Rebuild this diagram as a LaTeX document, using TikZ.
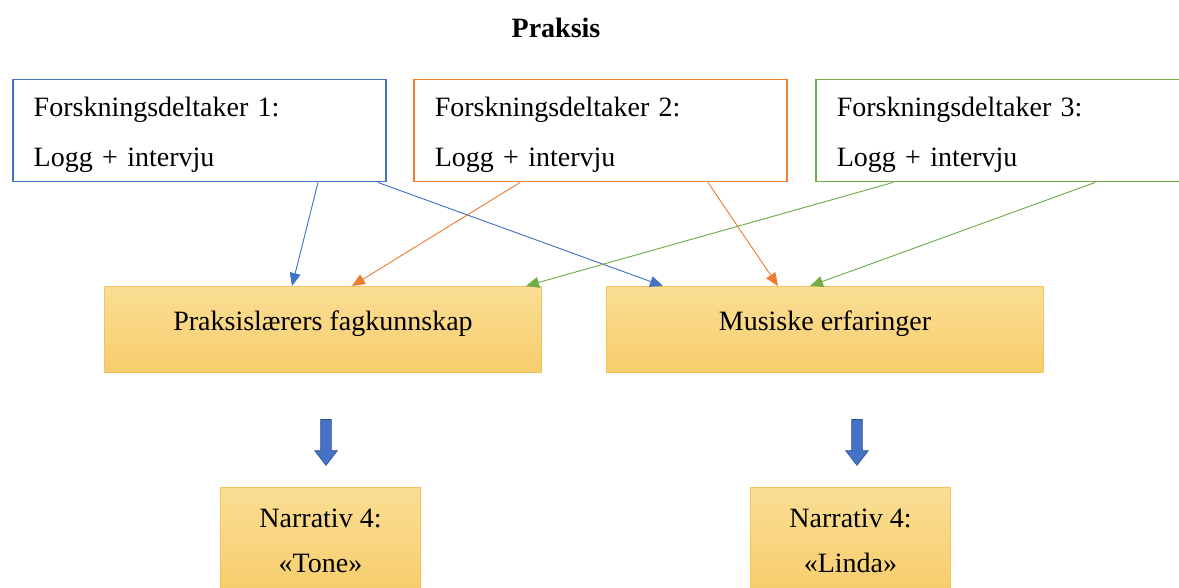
\documentclass[tikz,border=0pt]{standalone}
\usepackage{fontspec}
\setmainfont{Liberation Serif}
\usetikzlibrary{shapes.arrows,calc,arrows.meta}
\definecolor{cblue}{RGB}{68,114,196}
\definecolor{cbluedark}{RGB}{47,82,143}
\definecolor{corange}{RGB}{237,125,49}
\definecolor{cgreen}{RGB}{112,173,71}
\definecolor{ytop}{RGB}{250,222,148}
\definecolor{ybot}{RGB}{247,205,108}
\definecolor{yborder}{RGB}{243,196,90}
\newcommand{\shiftto}[2]{\raisebox{#1}[\height][\depth]{#2}}
\tikzset{
  x=1pt,y=1pt,
  txt/.style={font=\fontsize{28}{50}\selectfont},
  partbox/.style={draw=#1,line width=1.5pt,txt,align=left,anchor=north west,
    minimum width=373pt,minimum height=102pt,text width=331pt,inner xsep=21pt,inner ysep=0pt},
  goldbox/.style={draw=yborder,line width=1pt,top color=ytop,bottom color=ybot,txt,align=center,
    anchor=north west,inner sep=0pt},
  conn/.style={draw=#1,line width=0.9pt,-{Triangle[length=13pt,width=11pt]},fill=#1},
  blockarrow/.style={single arrow,draw=cbluedark,fill=cblue,line width=0.6pt,rotate=-90,
    minimum height=46pt,minimum width=22pt,inner xsep=0pt,inner ysep=5pt,
    single arrow head extend=6pt,single arrow tip angle=75}
}
\begin{document}
\begin{tikzpicture}
\useasboundingbox (0,0) rectangle (1179,-588);
\node[font=\fontsize{28}{34}\selectfont\bfseries] (title) at (556,-28) {Praksis};
\node[partbox=cblue] (p1) at (12,-79) {\shiftto{-4pt}{Forskningsdeltaker 1:}\\\shiftto{-4pt}{Logg + intervju}};
\node[partbox=corange] (p2) at (413,-79) {\shiftto{-4pt}{Forskningsdeltaker 2:}\\\shiftto{-4pt}{Logg + intervju}};
\node[partbox=cgreen] (p3) at (815,-79) {\shiftto{-4pt}{Forskningsdeltaker 3:}\\\shiftto{-4pt}{Logg + intervju}};
\node[goldbox,minimum width=437pt,minimum height=86pt] (k1) at (104,-286) {\shiftto{6pt}{Praksislærers fagkunnskap}};
\node[goldbox,minimum width=437pt,minimum height=86pt] (k2) at (606,-286) {\shiftto{6pt}{Musiske erfaringer}};
\node[goldbox,minimum width=200pt,minimum height=106pt,font=\fontsize{28}{45}\selectfont] (n1) at (220,-487) {Narrativ 4:\\«Tone»};
\node[goldbox,minimum width=200pt,minimum height=106pt,font=\fontsize{28}{45}\selectfont] (n2) at (750,-487) {Narrativ 4:\\«Linda»};
\node[blockarrow] (a1) at (326,-439) {};
\node[blockarrow] (a2) at (857,-439) {};
% connector end points on box borders
\coordinate (s11) at ($(p1.south west)+(306,0)$);
\coordinate (s12) at ($(p1.south west)+(366,0)$);
\coordinate (s21) at ($(p2.south west)+(107,0)$);
\coordinate (s22) at ($(p2.south west)+(295,0)$);
\coordinate (s31) at ($(p3.south west)+(78,0)$);
\coordinate (s32) at ($(p3.south west)+(280,0)$);
\coordinate (t11) at ($(k1.north west)+(188,0)$);
\coordinate (t21) at ($(k1.north west)+(248,0)$);
\coordinate (t31) at ($(k1.north west)+(422,0)$);
\coordinate (t12) at ($(k2.north west)+(57,0)$);
\coordinate (t22) at ($(k2.north west)+(172,0)$);
\coordinate (t32) at ($(k2.north west)+(204,0)$);
\draw[conn=cblue] (s11) -- (t11);
\draw[conn=cblue] (s12) -- (t12);
\draw[conn=corange] (s21) -- (t21);
\draw[conn=corange] (s22) -- (t22);
\draw[conn=cgreen] (s31) -- (t31);
\draw[conn=cgreen] (s32) -- (t32);
\end{tikzpicture}
\end{document}
